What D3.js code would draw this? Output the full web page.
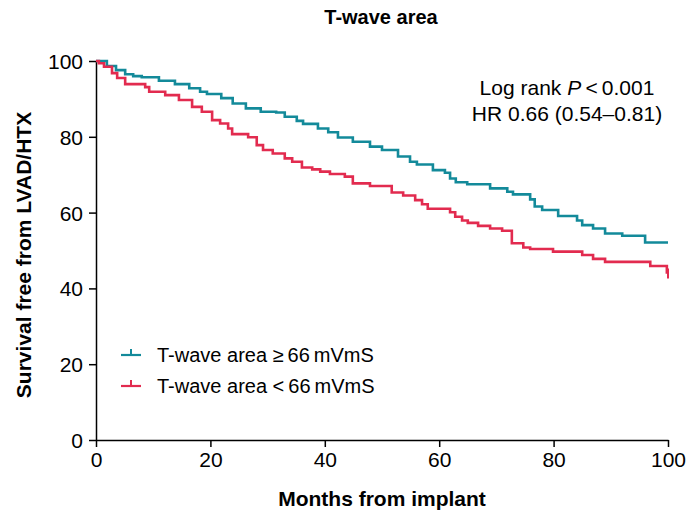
<!DOCTYPE html>
<html>
<head>
<meta charset="utf-8">
<script src="https://cdn.jsdelivr.net/npm/d3@7"></script>
<style>
  body { margin: 0; background: #fff; }
  text { font-family: "Liberation Sans", Arial, sans-serif; }
</style>
</head>
<body>
<svg id="chart" width="687" height="516"></svg>
<script>
// Kaplan-Meier steps: [month, survival %]
var highArea = [
  [0, 100], [1.9, 98.7], [3.5, 97.6], [5.1, 96.5], [6.5, 96.0], [8.0, 95.7],
  [11.0, 94.8], [13.8, 93.9], [16.3, 92.8], [18.2, 91.9], [19.4, 91.3],
  [21.9, 90.2], [23.9, 88.8], [26.2, 87.5], [28.8, 86.6], [31.5, 86.4],
  [33.0, 85.3], [35.1, 84.2], [36.2, 83.4], [38.8, 82.2], [40.6, 81.2],
  [42.3, 79.8], [44.9, 78.7], [47.9, 77.4], [50.0, 76.5], [52.8, 74.8],
  [54.9, 73.4], [56.1, 72.7], [58.9, 71.2], [61.0, 70.5], [61.9, 69.0],
  [62.9, 68.0], [64.9, 67.5], [68.9, 66.4], [71.9, 65.5], [72.9, 64.8],
  [75.9, 63.5], [76.7, 61.6], [78.0, 60.7], [80.8, 59.1], [84.1, 57.9],
  [85.0, 56.7], [86.9, 55.8], [89.0, 54.5], [92.0, 53.9], [96.0, 52.1],
  [100, 52.1]
];
var lowArea = [
  [0, 100], [0.5, 99.4], [1.4, 98.5], [2.8, 96.8], [3.7, 95.5], [5.1, 93.9],
  [8.6, 93.1], [9.3, 91.9], [12.1, 91.0], [14.5, 89.7], [16.8, 87.9],
  [18.5, 86.6], [20.3, 84.4], [21.7, 83.5], [23.1, 82.2], [23.8, 80.7],
  [26.6, 79.9], [28.1, 77.8], [29.2, 76.5], [30.9, 75.6], [33.0, 74.3],
  [34.3, 73.4], [36.0, 71.9], [37.8, 71.4], [39.2, 70.8], [40.9, 70.2],
  [43.5, 69.5], [44.9, 67.7], [47.9, 67.0], [51.7, 65.3], [53.7, 64.5],
  [55.8, 63.3], [57.0, 62.2], [58.0, 61.0], [61.9, 60.1], [62.8, 58.9],
  [64.0, 57.9], [65.0, 57.3], [66.8, 56.5], [68.9, 55.8], [71.0, 55.2],
  [72.7, 51.9], [74.7, 50.8], [75.9, 50.4], [79.9, 49.7], [85.0, 48.8],
  [86.9, 47.8], [89.0, 47.0], [96.9, 45.9], [99.8, 44.2], [100, 44.2]
];
var xTicks = [0, 20, 40, 60, 80, 100];
var yTicks = [0, 20, 40, 60, 80, 100];
var seriesNames = ["T-wave area \u2265\u200966\u2009mVmS", "T-wave area <\u200966\u2009mVmS"];
var seriesColors = ["#138a9a", "#e22b4f"];

var svg = d3.select("#chart");
var margin = { top: 61, right: 19, bottom: 76, left: 96 };
var width = 687 - margin.left - margin.right;
var height = 516 - margin.top - margin.bottom;

var x = d3.scaleLinear().domain([0, 100]).range([0, width]);
var y = d3.scaleLinear().domain([0, 100]).range([height, 0]);

var g = svg.append("g").attr("transform", "translate(" + margin.left + "," + margin.top + ")");

// axes
var xAxis = g.append("g")
  .attr("transform", "translate(0," + height + ")")
  .call(d3.axisBottom(x).tickValues(xTicks).tickSize(7).tickSizeOuter(0));
var yAxis = g.append("g")
  .call(d3.axisLeft(y).tickValues(yTicks).tickSize(7).tickSizeOuter(0));

[xAxis, yAxis].forEach(function(a) {
  a.select(".domain").attr("stroke", "#000").attr("stroke-width", 1.5);
  a.selectAll(".tick line").attr("stroke", "#000").attr("stroke-width", 1.5);
  a.selectAll(".tick text").attr("fill", "#000")
    .style("font-family", "'Liberation Sans', Arial, sans-serif")
    .style("font-size", "21px");
});
xAxis.selectAll(".tick text").attr("y", 10).attr("dy", "0.8em");
yAxis.selectAll(".tick text").attr("x", -13).attr("dy", "0.36em");

// curves
var line = d3.line()
  .x(function(d) { return x(d[0]); })
  .y(function(d) { return y(d[1]); })
  .curve(d3.curveStepAfter);

[highArea, lowArea].forEach(function(data, i) {
  g.append("path")
    .datum(data)
    .attr("fill", "none")
    .attr("stroke", seriesColors[i])
    .attr("stroke-width", 2.6)
    .attr("d", line);
});

// censor mark at end of the low-area curve
g.append("line")
  .attr("x1", x(100)).attr("x2", x(100))
  .attr("y1", y(44.2) - 4).attr("y2", y(44.2) + 6)
  .attr("stroke", seriesColors[1]).attr("stroke-width", 2);

// title and axis labels
svg.append("text")
  .attr("x", 381).attr("y", 24)
  .attr("text-anchor", "middle")
  .style("font-weight", "bold").style("font-size", "20px")
  .text("T-wave area");

svg.append("text")
  .attr("x", 382).attr("y", 506)
  .attr("text-anchor", "middle")
  .style("font-weight", "bold").style("font-size", "21px")
  .text("Months from implant");

svg.append("text")
  .attr("transform", "translate(31,255) rotate(-90)")
  .attr("text-anchor", "middle")
  .style("font-weight", "bold").style("font-size", "21px")
  .text("Survival free from LVAD/HTX");

// statistics
var stats = svg.append("text").attr("text-anchor", "middle").style("font-size", "21px");
var t1 = stats.append("tspan").attr("x", 567).attr("y", 95);
t1.append("tspan").text("Log rank ");
t1.append("tspan").style("font-style", "italic").text("P");
t1.append("tspan").text("\u2009<\u20090.001");
stats.append("tspan").attr("x", 567).attr("y", 121).text("HR 0.66 (0.54\u20130.81)");

// legend
var legend = g.append("g").attr("transform", "translate(25,294)");
seriesNames.forEach(function(name, i) {
  var row = legend.append("g").attr("transform", "translate(0," + (i * 31) + ")");
  row.append("line").attr("x1", 0).attr("x2", 20).attr("y1", 0).attr("y2", 0)
    .attr("stroke", seriesColors[i]).attr("stroke-width", 2.2);
  row.append("line").attr("x1", 10).attr("x2", 10).attr("y1", -6).attr("y2", 0)
    .attr("stroke", seriesColors[i]).attr("stroke-width", 2);
  row.append("text").attr("x", 36).attr("y", 0).attr("dy", "0.36em")
    .style("font-size", "20px").text(name);
});
</script>
</body>
</html>
